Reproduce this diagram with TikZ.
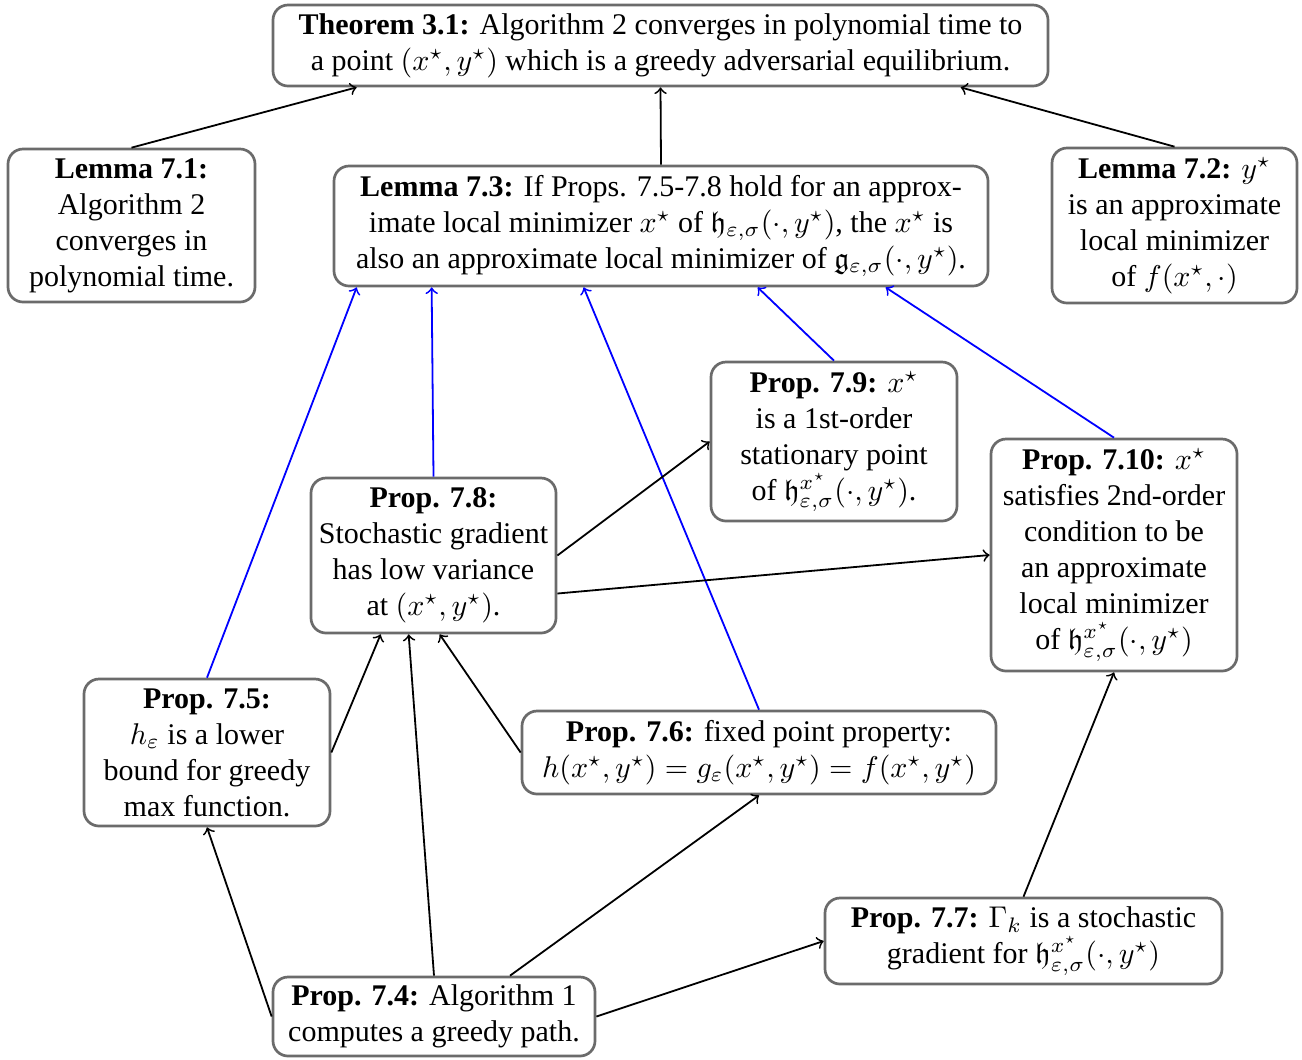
\documentclass[tikz,border=0pt]{standalone}
\usepackage{amssymb}
\usepackage{fontspec}
\setmainfont{Liberation Serif}
\usetikzlibrary{calc}
\newdimen\pxu \pxu=0.33333pt
\begin{document}
\begin{tikzpicture}[x=0.33333pt, y=-0.33333pt,
  box/.style={draw=black!58, line width=0.9pt, rounded corners=5pt, fill=white,
    align=center, inner sep=0pt},
  arr/.style={->, line width=0.6pt, black},
  barr/.style={->, line width=0.6pt, blue}]
\useasboundingbox (0,0) rectangle (1302,1059);
% nodes
\node[box, minimum width=775\pxu, minimum height=81\pxu] (thm) at (660.5,45.5)
  {\textbf{Theorem 3.1:} Algorithm 2 converges in polynomial time to\\
   a point $(x^\star,y^\star)$ which is a greedy adversarial equilibrium.};
\node[box, minimum width=247\pxu, minimum height=153\pxu] (l71) at (131.5,225.5)
  {\textbf{Lemma 7.1:}\\ Algorithm 2\\ converges in\\ polynomial time.};
\node[box, minimum width=654\pxu, minimum height=120\pxu] (l73) at (661,226)
  {\textbf{Lemma 7.3:} If Props. 7.5-7.8 hold for an approx-\\
   imate local minimizer $x^\star$ of $\mathfrak{h}_{\varepsilon,\sigma}(\cdot,y^\star)$, the $x^\star$ is\\
   also an approximate local minimizer of $\mathfrak{g}_{\varepsilon,\sigma}(\cdot,y^\star)$.};
\node[box, minimum width=245\pxu, minimum height=155\pxu] (l72) at (1174.5,225.5)
  {\textbf{Lemma 7.2:} $y^\star$\\ is an approximate\\ local minimizer\\ of $f(x^\star,\cdot)$};
\node[box, minimum width=246\pxu, minimum height=159\pxu] (p79) at (834,441.5)
  {\textbf{Prop. 7.9:} $x^\star$\\ is a 1st-order\\ stationary point\\
   of $\mathfrak{h}^{x^\star}_{\varepsilon,\sigma}(\cdot,y^\star)$.};
\node[box, minimum width=246\pxu, minimum height=232\pxu] (p710) at (1114,555)
  {\textbf{Prop. 7.10:} $x^\star$\\ satisfies 2nd-order\\ condition to be\\ an approximate\\
   local minimizer\\ of $\mathfrak{h}^{x^\star}_{\varepsilon,\sigma}(\cdot,y^\star)$};
\node[box, minimum width=245\pxu, minimum height=155\pxu] (p78) at (433.5,555.5)
  {\textbf{Prop. 7.8:}\\ Stochastic gradient\\ has low variance\\ at $(x^\star,y^\star)$.};
\node[box, minimum width=246\pxu, minimum height=147\pxu] (p75) at (207,752.5)
  {\textbf{Prop. 7.5:}\\ $h_\varepsilon$ is a lower\\ bound for greedy\\ max function.};
\node[box, minimum width=474\pxu, minimum height=83\pxu] (p76) at (759,752.5)
  {\textbf{Prop. 7.6:} fixed point property:\\
   $h(x^\star,y^\star) = g_\varepsilon(x^\star,y^\star) = f(x^\star,y^\star)$};
\node[box, minimum width=397\pxu, minimum height=86\pxu] (p77) at (1023.5,941)
  {\textbf{Prop. 7.7:} $\Gamma_k$ is a stochastic\\
   gradient for $\mathfrak{h}^{x^\star}_{\varepsilon,\sigma}(\cdot,y^\star)$};
\node[box, minimum width=322\pxu, minimum height=79\pxu] (p74) at (434,1016.5)
  {\textbf{Prop. 7.4:} Algorithm 1\\ computes a greedy path.};
% black connectors to theorem
\draw[arr] (l71.north) -- ($(thm.south west)+(85,0)$);
\draw[arr] (l73.north) -- (thm.south);
\draw[arr] (l72.north) -- ($(thm.south west)+(689,0)$);
% blue connectors to lemma 7.3
\draw[barr] (p75.north) -- ($(l73.south west)+(24,0)$);
\draw[barr] (p78.north) -- ($(l73.south west)+(99,0)$);
\draw[barr] (p76.north) -- ($(l73.south west)+(251,0)$);
\draw[barr] (p79.north) -- ($(l73.south west)+(425,0)$);
\draw[barr] (p710.north) -- ($(l73.south west)+(553,0)$);
% black connectors
\draw[arr] (p78.east) -- (p79.west);
\draw[arr] ($(p78.east)+(0,38)$) -- (p710.west);
\draw[arr] (p75.east) -- ($(p78.south west)+(71,0)$);
\draw[arr] (p74.north) -- ($(p78.south west)+(99,0)$);
\draw[arr] (p76.west) -- ($(p78.south west)+(130,0)$);
\draw[arr] (p74.west) -- (p75.south);
\draw[arr] ($(p74.north)+(76,0)$) -- (p76.south);
\draw[arr] (p74.east) -- (p77.west);
\draw[arr] (p77.north) -- (p710.south);
\end{tikzpicture}
\end{document}
